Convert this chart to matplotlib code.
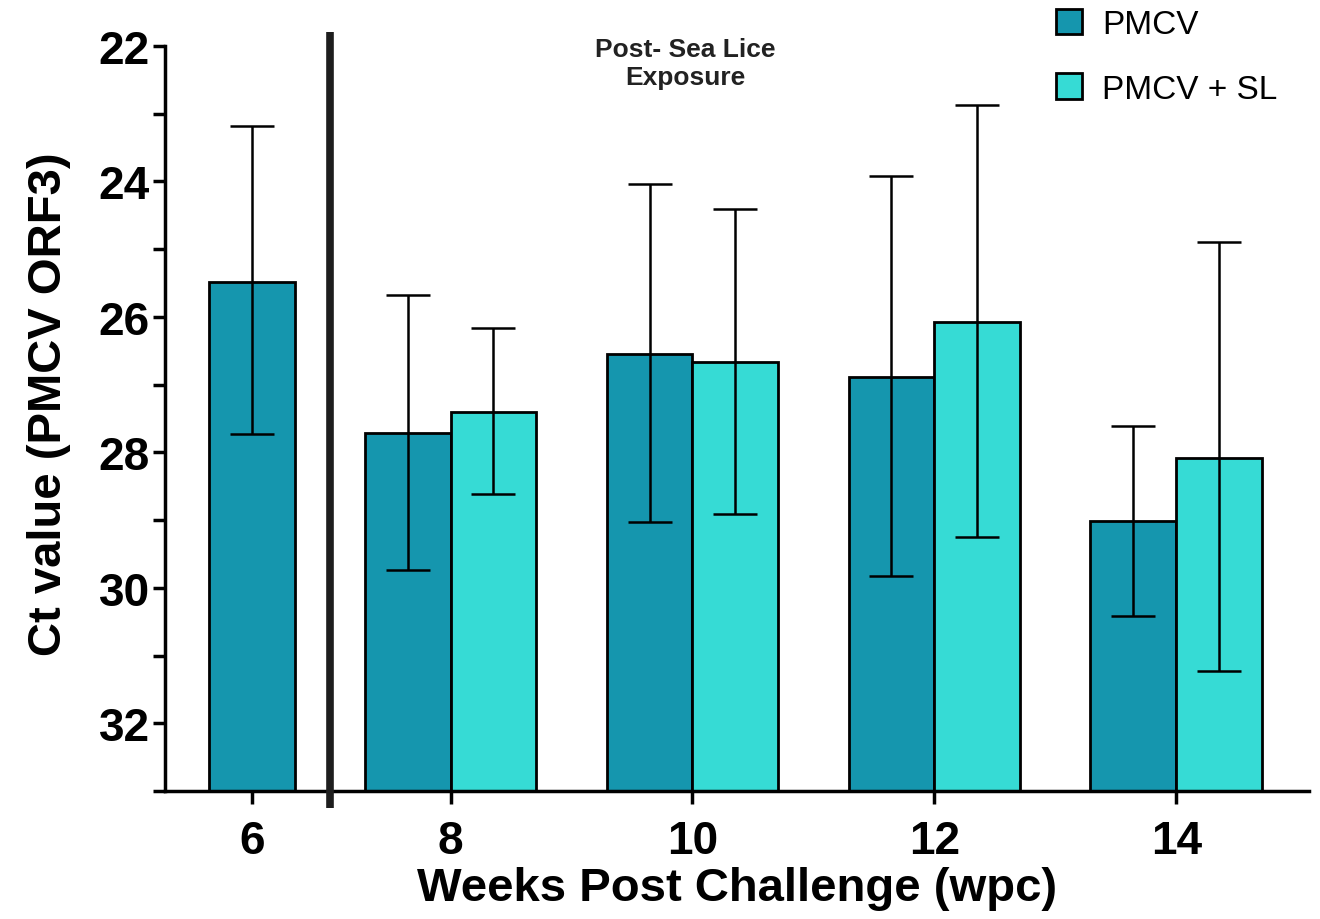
import matplotlib
matplotlib.use("Agg")
import matplotlib.pyplot as plt
from matplotlib.patches import Patch
from matplotlib.ticker import MultipleLocator

# data (Ct values, lower = more virus, axis inverted)
weeks = ["6", "8", "10", "12", "14"]
pmcv = [25.49, 27.72, 26.55, 26.89, 29.02]
pmcv_lo = [23.18, 25.68, 24.04, 23.92, 27.61]
pmcv_hi = [27.73, 29.73, 29.03, 29.83, 30.42]
sl_weeks = ["8", "10", "12", "14"]
sl = [27.41, 26.67, 26.08, 28.09]
sl_lo = [26.17, 24.41, 22.87, 24.90]
sl_hi = [28.62, 28.91, 29.25, 31.22]

c_pmcv = "#1596ae"
c_sl = "#36dbd5"

# group positions (week 6 sits closer to the divider line)
xpos = [0.18, 1, 2, 3, 4]
w = 0.355
base = 33.0

plt.rcParams['font.family'] = ['Liberation Sans', 'DejaVu Sans']
fig = plt.figure(figsize=(13.2, 9.2), dpi=100)
ax = fig.add_axes([0.125, 0.139, 0.867, 0.810])

# PMCV bars: week 6 centred, others left of the tick
px = [xpos[0]] + [x - w / 2 for x in xpos[1:]]
ax.bar(px, [base - v for v in pmcv], bottom=pmcv, width=w, color=c_pmcv,
       edgecolor="black", linewidth=2, zorder=2)
sx = [x + w / 2 for x in xpos[1:]]
ax.bar(sx, [base - v for v in sl], bottom=sl, width=w, color=c_sl,
       edgecolor="black", linewidth=2, zorder=2)

ax.errorbar(px, pmcv, yerr=[[v - lo for v, lo in zip(pmcv, pmcv_lo)],
                            [hi - v for v, hi in zip(pmcv, pmcv_hi)]],
            fmt="none", ecolor="black", elinewidth=1.8, capsize=16, capthick=1.8, zorder=3)
ax.errorbar(sx, sl, yerr=[[v - lo for v, lo in zip(sl, sl_lo)],
                          [hi - v for v, hi in zip(sl, sl_hi)]],
            fmt="none", ecolor="black", elinewidth=1.8, capsize=16, capthick=1.8, zorder=3)

ax.set_ylim(33, 22)
ax.set_xlim(-0.18, 4.55)
ax.yaxis.set_major_locator(MultipleLocator(2))
ax.yaxis.set_minor_locator(MultipleLocator(1))
ax.set_xticks(xpos)
ax.set_xticklabels(weeks)

for s in ["top", "right"]:
    ax.spines[s].set_visible(False)
ax.spines["left"].set_linewidth(2.5)
ax.spines["bottom"].set_linewidth(2.5)
ax.tick_params(axis="both", which="major", width=2.5, length=9, labelsize=33, pad=2)
ax.tick_params(axis="x", which="major", pad=11)
ax.tick_params(axis="y", which="minor", width=2.5, length=9)
for lab in ax.get_xticklabels() + ax.get_yticklabels():
    lab.set_fontweight("bold")

ax.set_ylabel("Ct value (PMCV ORF3)", fontsize=34, fontweight="bold")
ax.yaxis.set_label_coords(-0.082, 0.52)
ax.set_xlabel("Weeks Post Challenge (wpc)", fontsize=34, fontweight="bold", labelpad=2)

# divider between pre- and post- sea lice exposure
ax.plot([0.5, 0.5], [33.25, 21.8], color="#1e1e1e", linewidth=5.5,
        clip_on=False, zorder=4, solid_capstyle="butt")
ax.text(1.97, 22.25, "Post- Sea Lice\nExposure", ha="center", va="center",
        fontsize=19, fontweight="bold", linespacing=1.2, color="#222222")

handles = [Patch(facecolor=c_pmcv, edgecolor="black", linewidth=2, label="PMCV"),
           Patch(facecolor=c_sl, edgecolor="black", linewidth=2, label="PMCV + SL")]
fig.legend(handles=handles, loc="upper left", bbox_to_anchor=(0.777, 1.022),
           frameon=False, fontsize=24, handlelength=0.8, handleheight=0.8,
           labelspacing=1.0, handletextpad=0.6)

fig.savefig("out.png", dpi=100)
